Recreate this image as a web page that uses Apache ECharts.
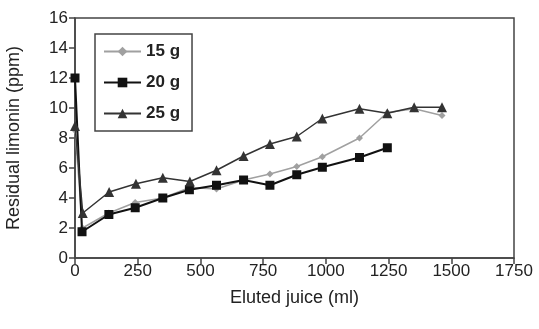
<!DOCTYPE html>
<html>
<head>
<meta charset="utf-8">
<script src="https://cdn.jsdelivr.net/npm/echarts@6/dist/echarts.min.js"></script>
<style>
  html, body { margin: 0; padding: 0; background: #fff; }
  #chart { width: 539px; height: 329px; }
</style>
</head>
<body>
<div id="chart"></div>
<script>
// eluted juice (ml) / residual limonin (ppm)
const g15 = [[0, 8.5], [30, 2.0], [135, 3.0], [240, 3.7], [350, 4.0], [458, 4.7], [564, 4.6], [672, 5.2], [777, 5.6], [884, 6.1], [986, 6.75], [1134, 8.0], [1245, 9.7], [1352, 9.95], [1463, 9.5]];
const g20 = [[0, 12.0], [28, 1.75], [135, 2.9], [240, 3.35], [350, 4.0], [456, 4.55], [564, 4.85], [672, 5.2], [777, 4.85], [884, 5.55], [986, 6.05], [1134, 6.7], [1245, 7.35]];
const g25 = [[0, 8.8], [31, 3.0], [136, 4.4], [243, 4.95], [350, 5.35], [458, 5.1], [564, 5.85], [672, 6.8], [777, 7.6], [884, 8.1], [986, 9.3], [1134, 9.95], [1245, 9.65], [1352, 10.05], [1463, 10.05]];
const seriesNames = ['15 g', '20 g', '25 g'];

const chart = echarts.init(document.getElementById('chart'));
const axisCol = '#444';
const font = 'Liberation Sans, Arial, sans-serif';

chart.setOption({
  animation: false,
  grid: {
    left: 75, right: 25, top: 18, bottom: 71,
    outerBoundsMode: 'none',
    show: true, borderColor: axisCol, borderWidth: 1.5
  },
  legend: {
    data: seriesNames,
    orient: 'vertical',
    left: 95, top: 34,
    itemWidth: 37, itemHeight: 12, itemGap: 14,
    padding: [9, 12, 9, 8],
    borderColor: '#444', borderWidth: 1.5,
    textStyle: { fontFamily: font, fontSize: 17, fontWeight: 'bold', color: '#222' }
  },
  xAxis: {
    type: 'value', min: 0, max: 1750, interval: 250,
    name: 'Eluted juice (ml)', nameLocation: 'middle', nameGap: 31,
    nameTextStyle: { fontFamily: font, fontSize: 18, color: '#222' },
    axisLine: { lineStyle: { color: axisCol, width: 1.5 } },
    axisTick: { length: 6, lineStyle: { color: axisCol, width: 1.5 } },
    axisLabel: { fontFamily: font, fontSize: 17, color: '#222', margin: 5, formatter: v => String(v) },
    splitLine: { show: false }
  },
  yAxis: {
    type: 'value', min: 0, max: 16, interval: 2,
    name: 'Residual limonin (ppm)', nameLocation: 'middle', nameGap: 52,
    nameTextStyle: { fontFamily: font, fontSize: 18, color: '#222' },
    axisLine: { show: true, lineStyle: { color: axisCol, width: 1.5 } },
    axisTick: { show: true, length: 6, lineStyle: { color: axisCol, width: 1.5 } },
    axisLabel: { fontFamily: font, fontSize: 17, color: '#222', margin: 7 },
    splitLine: { show: false }
  },
  series: [
    {
      name: seriesNames[0], type: 'line', data: g15,
      symbol: 'diamond', symbolSize: 7,
      lineStyle: { color: '#a0a0a0', width: 1.5 },
      itemStyle: { color: '#a0a0a0' }, z: 2
    },
    {
      name: seriesNames[1], type: 'line', data: g20,
      symbol: 'rect', symbolSize: 9,
      lineStyle: { color: '#111', width: 2 },
      itemStyle: { color: '#111' }, z: 3
    },
    {
      name: seriesNames[2], type: 'line', data: g25,
      symbol: 'triangle', symbolSize: 10,
      lineStyle: { color: '#333', width: 1.5 },
      itemStyle: { color: '#333' }, z: 4
    }
  ]
});
</script>
</body>
</html>
